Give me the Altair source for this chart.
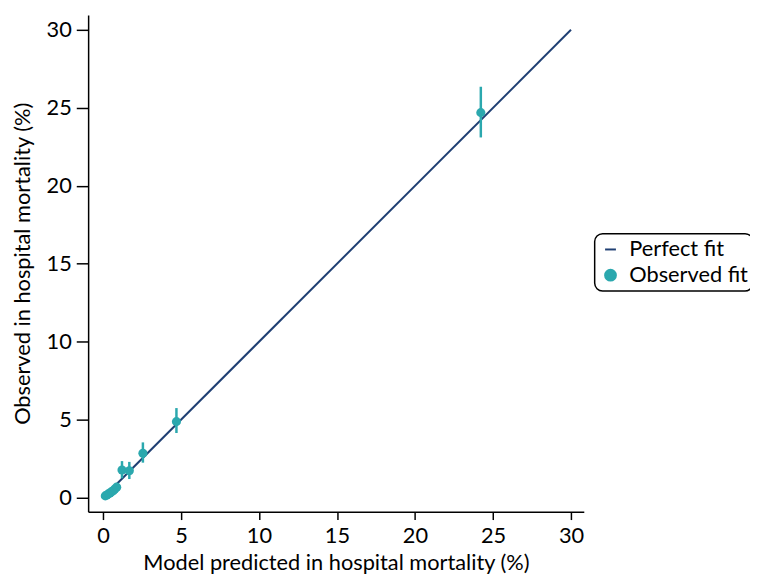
import altair as alt
import pandas as pd

# Perfect-fit reference line
fit_x = [0, 30]
fit_y = [0, 30]

# Observed fit points (model predicted vs observed, %), with 95% CI
pred = [0.15, 0.25, 0.35, 0.45, 0.55, 0.65, 0.75, 0.88, 1.22, 1.69, 2.56, 4.71, 24.22]
obs = [0.12, 0.18, 0.25, 0.30, 0.38, 0.45, 0.55, 0.68, 1.78, 1.73, 2.85, 4.88, 24.69]
lo = [0.10, 0.15, 0.22, 0.27, 0.34, 0.40, 0.49, 0.60, 1.25, 1.20, 2.25, 4.15, 23.10]
hi = [0.14, 0.21, 0.28, 0.33, 0.42, 0.50, 0.61, 0.76, 2.35, 2.30, 3.55, 5.75, 26.35]

series_names = ["Perfect fit", "Observed fit"]
navy = "#1f3f73"
teal = "#2ba8ae"

fit_df = pd.DataFrame({"x": fit_x, "y": fit_y, "series": "Perfect fit"})
pts_df = pd.DataFrame({"x": pred, "y": obs, "lo": lo, "hi": hi, "series": "Observed fit"})

FONT = "Lato"
FS = 22
xscale = alt.Scale(domain=[-0.95, 30.82], nice=False, zero=False)
yscale = alt.Scale(domain=[-0.89, 30.95], nice=False, zero=False)
ticks = [0, 5, 10, 15, 20, 25, 30]

xaxis = alt.Axis(values=ticks, title="Model predicted in hospital mortality (%)", grid=False,
                 tickSize=8, labelPadding=6, titlePadding=6, format="d")
yaxis = alt.Axis(values=ticks, title="Observed in hospital mortality (%)", grid=False,
                 tickSize=12, labelPadding=5, titlePadding=12, format="d")

color_scale = alt.Scale(domain=series_names, range=[navy, teal])
shape_scale = alt.Scale(domain=series_names, range=["stroke", "circle"])

legend = alt.Legend(orient="none", legendX=512, legendY=221, title=None,
                    strokeColor="black", cornerRadius=8, padding=5,
                    labelFontSize=FS, labelFont=FONT, symbolSize=120,
                    symbolStrokeWidth=2, rowPadding=4, labelOffset=8)

line = alt.Chart(fit_df).mark_line(strokeWidth=2, clip=True).encode(
    x=alt.X("x:Q", scale=xscale, axis=xaxis),
    y=alt.Y("y:Q", scale=yscale, axis=yaxis),
    color=alt.Color("series:N", scale=color_scale, legend=legend),
)

bars = alt.Chart(pts_df).mark_rule(strokeWidth=2.5, color=teal).encode(
    x=alt.X("x:Q", scale=xscale),
    y=alt.Y("lo:Q", scale=yscale),
    y2="hi:Q",
)

points = alt.Chart(pts_df).mark_point(filled=True, size=85, opacity=1, strokeWidth=0).encode(
    x=alt.X("x:Q", scale=xscale),
    y=alt.Y("y:Q", scale=yscale),
    color=alt.Color("series:N", scale=color_scale, legend=legend),
    stroke=alt.Stroke("series:N", scale=color_scale, legend=legend),
    shape=alt.Shape("series:N", scale=shape_scale, legend=legend),
)

chart = alt.layer(line, bars, points).properties(
    width=501, height=502,
    autosize=alt.AutoSizeParams(type="none"),
    padding={"left": 81, "top": 4, "right": 168, "bottom": 64},
    background="white",
).configure_view(stroke=None).configure_axis(
    domainColor="black", domainWidth=1.5, tickColor="black", tickWidth=1.5,
    labelFont=FONT, titleFont=FONT, labelFontSize=FS, titleFontSize=FS,
    labelColor="black", titleColor="black", titleFontWeight="normal",
).configure_legend(strokeWidth=1.5, labelColor="black", labelFont=FONT)

chart.save("out.html", embed_options={"renderer": "svg", "actions": False})
